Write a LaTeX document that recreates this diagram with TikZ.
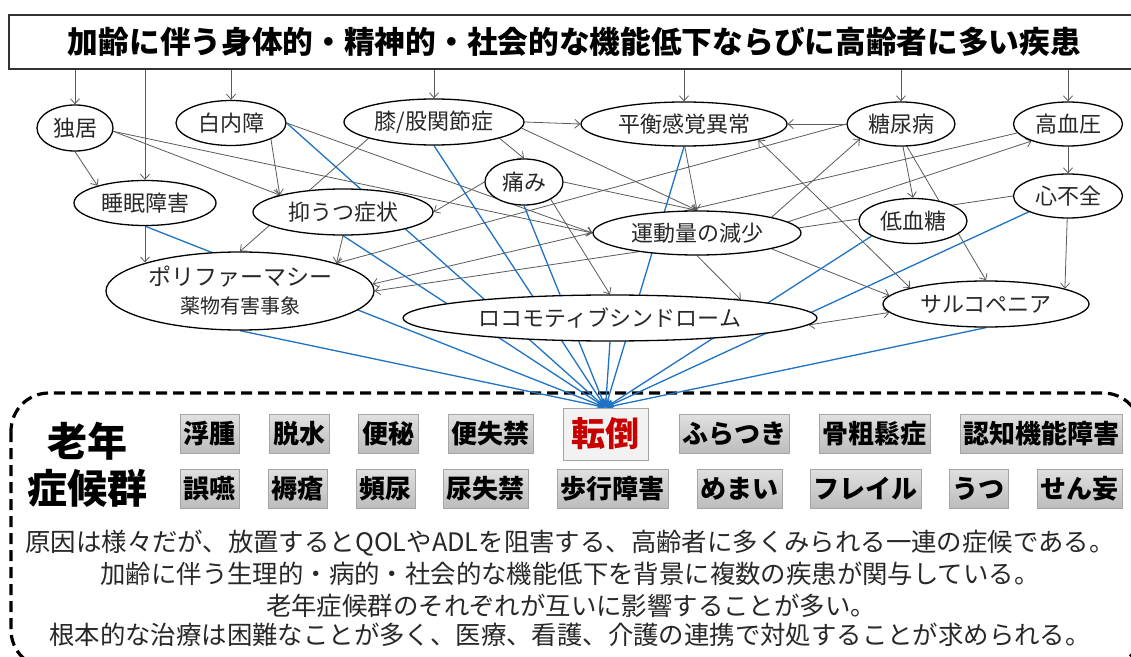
\documentclass[tikz,border=0pt]{standalone}
\usepackage{fontspec}
\setmainfont{Noto Sans CJK JP}
\usetikzlibrary{shapes.geometric,arrows.meta}
\definecolor{edgegray}{RGB}{90,90,90}
\definecolor{fallblue}{RGB}{30,115,195}
\definecolor{boxborder}{RGB}{165,165,165}
\definecolor{boxtop}{RGB}{224,224,224}
\definecolor{boxbot}{RGB}{188,188,188}
\definecolor{fallred}{RGB}{200,0,0}
\definecolor{titlegray}{RGB}{50,50,50}
\definecolor{desctext}{RGB}{40,40,40}
\newcommand\myfs[1]{\fontsize{#1bp}{#1bp}\selectfont}
\pgfdeclarelayer{bgwhite}
\pgfdeclarelayer{bgbox}
\pgfdeclarelayer{bgedge}
\pgfsetlayers{bgwhite,bgbox,bgedge,main}
\begin{document}
\begin{tikzpicture}[x=1bp,y=-1bp,
  ell/.style={ellipse, draw=black, line width=1.3bp, fill=white, inner sep=0pt, text=desctext, font=\myfs{22}},
  garrow/.style={draw=edgegray, line width=0.8bp, -{Straight Barb[length=5bp,width=9bp]}},
  gdouble/.style={draw=edgegray, line width=0.8bp, {Straight Barb[length=5bp,width=9bp]}-{Straight Barb[length=5bp,width=9bp]}},
  barrow/.style={draw=fallblue, line width=1.3bp, -{Stealth[length=9bp,width=7bp]}},
  sbox/.style={draw=boxborder, line width=0.8bp, top color=boxtop, bottom color=boxbot, minimum height=39bp, inner sep=0pt, font=\myfs{26}\bfseries},
  tbox/.style={draw=boxborder, line width=1bp, fill={rgb,255:red,242;green,242;blue,242}, text=fallred, minimum width=85bp, minimum height=52bp, inner sep=0pt, font=\myfs{34}\bfseries},
  desc/.style={font=\myfs{25.4}, text=desctext, inner sep=0pt},
  dashbox/.style={draw=black, line width=3.2bp, dash pattern=on 11bp off 6bp, rounded corners=38bp}
]
\useasboundingbox (0,0) rectangle (1131,657);
\begin{pgfonlayer}{bgwhite}
\fill[white] (0,0) rectangle (1131,657);
\end{pgfonlayer}

% title
\node[draw=titlegray, line width=1.3bp, fill=white, minimum width=1131bp, minimum height=54bp, inner sep=0pt, font=\myfs{30.7}\bfseries] (title) at (574.5,42) {加齢に伴う身体的・精神的・社会的な機能低下ならびに高齢者に多い疾患};

% disease / factor nodes
\node[ell, minimum width=76bp, minimum height=46bp] (dk) at (75,128) {独居};
\node[ell, minimum width=110bp, minimum height=45bp] (hk) at (231,123) {白内障};
\node[ell, minimum width=180bp, minimum height=46bp] (hz) at (434,122) {膝/股関節症};
\node[ell, minimum width=206bp, minimum height=44bp] (hs) at (684,124) {平衡感覚異常};
\node[ell, minimum width=108bp, minimum height=44bp] (tn) at (901,124) {糖尿病};
\node[ell, minimum width=109bp, minimum height=44bp] (kk) at (1068,124) {高血圧};
\node[ell, minimum width=142bp, minimum height=45bp] (sm) at (145,203) {睡眠障害};
\node[ell, minimum width=78bp, minimum height=46bp] (it) at (524,182) {痛み};
\node[ell, minimum width=180bp, minimum height=46bp] (yu) at (343,212) {抑うつ症状};
\node[ell, minimum width=208bp, minimum height=44bp] (ud) at (697,233) {運動量の減少};
\node[ell, minimum width=108bp, minimum height=45bp] (tk) at (913,221) {低血糖};
\node[ell, minimum width=109bp, minimum height=44bp] (sf) at (1068,196) {心不全};
\node[ell, minimum width=268bp, minimum height=78bp, align=center, font=\myfs{23}] (pl) at (240,291) {ポリファーマシー\\[5bp]{\myfs{20}薬物有害事象}};
\node[ell, minimum width=414bp, minimum height=46bp] (lc) at (610,318) {ロコモティブシンドローム};
\node[ell, minimum width=206bp, minimum height=46bp] (sc) at (986,304) {サルコペニア};

% geriatric syndrome box
\begin{pgfonlayer}{bgbox}
\draw[dashbox] (11,393) rectangle (1141,668);
\end{pgfonlayer}
\node[font=\myfs{40}\bfseries, inner sep=0pt] (rn1) at (87,441) {老年};
\node[font=\myfs{40}\bfseries, inner sep=0pt] (rn2) at (88,488) {症候群};

\node[sbox, minimum width=59bp] (b1) at (209.5,434) {浮腫};
\node[sbox, minimum width=60bp] (b2) at (299,434) {脱水};
\node[sbox, minimum width=60bp] (b3) at (388,434) {便秘};
\node[sbox, minimum width=85bp] (b4) at (490.5,434) {便失禁};
\node[tbox] (tt) at (605.5,434) {転倒};
\node[sbox, minimum width=110bp] (b6) at (734,434) {ふらつき};
\node[sbox, minimum width=111bp] (b7) at (874.5,434) {骨粗鬆症};
\node[sbox, minimum width=162bp] (b8) at (1041,434) {認知機能障害};

\node[sbox, minimum width=59bp] (c1) at (209.5,488.5) {誤嚥};
\node[sbox, minimum width=59bp] (c2) at (297.5,488.5) {褥瘡};
\node[sbox, minimum width=59bp] (c3) at (385.5,488.5) {頻尿};
\node[sbox, minimum width=85bp] (c4) at (485.5,488.5) {尿失禁};
\node[sbox, minimum width=111bp] (c5) at (612.5,488.5) {歩行障害};
\node[sbox, minimum width=85bp] (c6) at (739.5,488.5) {めまい};
\node[sbox, minimum width=111bp] (c7) at (865.5,488.5) {フレイル};
\node[sbox, minimum width=59bp] (c8) at (978.5,488.5) {うつ};
\node[sbox, minimum width=85bp] (c9) at (1079.5,488.5) {せん妄};

\node[desc] (d1) at (570,543) {原因は様々だが、放置するとQOLやADLを阻害する、高齢者に多くみられる一連の症候である。};
\node[desc] (d2) at (570,574) {加齢に伴う生理的・病的・社会的な機能低下を背景に複数の疾患が関与している。};
\node[desc] (d3) at (571,606) {老年症候群のそれぞれが互いに影響することが多い。};
\node[desc] (d4) at (570,635) {根本的な治療は困難なことが多く、医療、看護、介護の連携で対処することが求められる。};

% connectors
\begin{pgfonlayer}{bgedge}
\foreach \n in {dk,sm,hk,hz,hs,tn,kk} \draw[garrow] (\n.north |- title.south) -- (\n.north);
\draw[garrow] (dk.south) -- (sm.160);
\draw[garrow] (dk.-5) -- (yu.165);
\draw[garrow] (dk.-5) -- (ud.180);
\draw[garrow] (hk.-22) -- (yu.165);
\draw[garrow] (hk.0) -- (ud.180);
\draw[garrow] (hz.0) -- (hs.180);
\draw[garrow] (hz.-4) -- (ud.90);
\draw[garrow] (hz.-14) -- (it.90);
\draw[garrow] (hz.-166) -- (pl.90);
\draw[garrow] (it.180) -- (yu.0);
\draw[garrow] (it.0) -- (ud.90);
\draw[garrow] (it.-33) -- (lc.90);
\draw[garrow] (hs.-88) -- (ud.90);
\draw[garrow] (tn.180) -- (hs.0);
\draw[gdouble] (hs.-12) -- (sc.168);
\draw[garrow] (ud.12) -- (tn.-160);
\draw[garrow] (ud.7) -- (kk.-155);
\draw[garrow] (ud.-90) -- (lc.8);
\draw[garrow] (ud.-12) -- (sc.175);
\draw[gdouble] (lc.-2) -- (sc.185);
\draw[garrow] (tn.-85) -- (tk.90);
\draw[garrow] (tn.-75) -- (sc.90);
\draw[garrow] (kk.-90) -- (sf.90);
\draw[garrow] (sf.-92) -- (sc.11);
\draw[garrow] (sf.180) -- (pl.0);
\draw[garrow] (kk.190) -- (pl.3);
\draw[garrow] (tn.180) -- (pl.16);
\draw[garrow] (yu.-90) -- (pl.16);
\draw[garrow] (sm.south) -- (sm.south |- pl.163.6);
\foreach \n/\a in {sm/-90, pl/-90, hk/0, yu/-90, hz/-90, it/-90, lc/-90, hs/-90, tk/-160, sf/-158, sc/-90}
  \draw[barrow] (\n.\a) -- (tt.north);
\end{pgfonlayer}
\end{tikzpicture}
\end{document}
